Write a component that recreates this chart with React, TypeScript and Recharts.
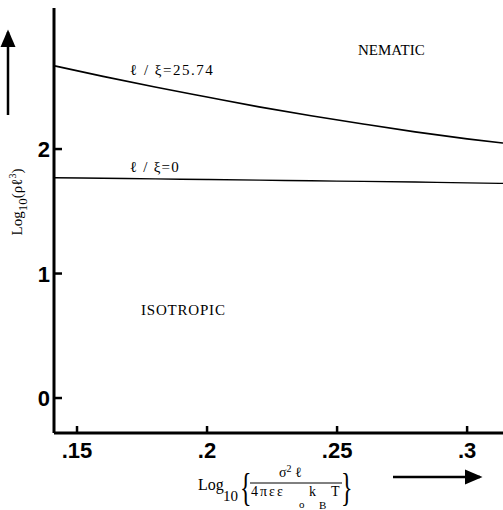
import { Line, LineChart, XAxis, YAxis } from 'recharts';

// log10 of the reduced dipole term (x axis)
const xValues = [0.1412, 0.16, 0.18, 0.2, 0.22, 0.24, 0.26, 0.28, 0.3, 0.3138];
// log10(rho l^3) at the transition, l/xi = 25.74
const upperCurve = [2.669, 2.584, 2.498, 2.418, 2.339, 2.267, 2.201, 2.138, 2.082, 2.048];
// log10(rho l^3) at the transition, l/xi = 0
const lowerCurve = [1.769, 1.765, 1.760, 1.755, 1.750, 1.745, 1.740, 1.735, 1.728, 1.724];

const xTicks = [0.15, 0.2, 0.25, 0.3];
const yTicks = [0, 1, 2];

const data = xValues.map((x, i) => ({
  x,
  upper: upperCurve[i],
  lower: lowerCurve[i]
}));

const tickFont = '"Liberation Sans", Arial, sans-serif';
const serif = '"Liberation Serif", "DejaVu Serif", serif';

// ticks point into the plot, so the mark is drawn here with the label
function XTick(props: any) {
  const { x, y, payload } = props;
  const label = String(payload.value).replace(/^0/, '');
  return (
    <g>
      <path d={`M${x},${y} v-7`} stroke='#000' strokeWidth={2.5} fill='none' />
      <text
        x={x}
        y={y + 25}
        textAnchor='middle'
        fontFamily={tickFont}
        fontWeight='bold'
        fontSize={22}
        fill='#000'
      >
        {label}
      </text>
    </g>
  );
}

function YTick(props: any) {
  const { x, y, payload } = props;
  return (
    <g>
      <path d={`M${x},${y} h8`} stroke='#000' strokeWidth={2.5} fill='none' />
      <text
        x={x - 4}
        y={y + 8}
        textAnchor='end'
        fontFamily={tickFont}
        fontWeight='bold'
        fontSize={22}
        fill='#000'
      >
        {payload.value}
      </text>
    </g>
  );
}

function App() {
  return (
    <div style={{ position: 'absolute', left: 0, top: 0, width: 503, height: 510, background: '#fff' }}>
      <LineChart
        width={503}
        height={510}
        data={data}
        margin={{ top: 8, right: 0, bottom: 0, left: 0 }}
      >
        <XAxis
          dataKey='x'
          type='number'
          domain={[0.14115, 0.3138]}
          ticks={xTicks}
          height={77}
          tickSize={0}
          tickMargin={0}
          tick={<XTick />}
          axisLine={{ stroke: '#000', strokeWidth: 3 }}
          allowDataOverflow
        />
        <XAxis
          xAxisId='top'
          orientation='top'
          dataKey='x'
          type='number'
          domain={[0.14115, 0.3138]}
          height={0}
          tick={false}
          tickLine={false}
          axisLine={{ stroke: '#000', strokeWidth: 2.5 }}
        />
        <YAxis
          type='number'
          domain={[-0.281, 3.133]}
          ticks={yTicks}
          width={54}
          tickSize={0}
          tickMargin={0}
          tick={<YTick />}
          axisLine={{ stroke: '#000', strokeWidth: 3 }}
          allowDataOverflow
        />
        <Line
          dataKey='upper'
          type='monotone'
          stroke='#000'
          strokeWidth={1.6}
          dot={false}
          isAnimationActive={false}
        />
        <Line
          dataKey='lower'
          type='monotone'
          stroke='#000'
          strokeWidth={1.4}
          dot={false}
          isAnimationActive={false}
        />
      </LineChart>

      <svg
        width={503}
        height={510}
        style={{ position: 'absolute', left: 0, top: 0, pointerEvents: 'none' }}
      >
        <defs>
          <marker id='head' markerWidth='8' markerHeight='8' refX='6' refY='4' orient='auto'>
            <path d='M0,1 L7,4 L0,7 Z' fill='#000' />
          </marker>
        </defs>

        {/* region and curve labels */}
        <text x={358} y={55} fontFamily={serif} fontSize={15} fill='#000'>NEMATIC</text>
        <text x={130} y={75} fontFamily={serif} fontSize={15} letterSpacing={1.5} fill='#000'>ℓ / ξ=25.74</text>
        <text x={130} y={172} fontFamily={serif} fontSize={15} letterSpacing={1.2} fill='#000'>ℓ / ξ=0</text>
        <text x={141} y={315} fontFamily={serif} fontSize={15} letterSpacing={0.8} fill='#000'>ISOTROPIC</text>

        {/* y axis title and arrow */}
        <line x1={8} y1={115} x2={8} y2={32} stroke='#000' strokeWidth={2.5} markerEnd='url(#head)' />
        <text
          transform='translate(22, 202) rotate(-90)'
          textAnchor='middle'
          fontFamily={serif}
          fontSize={15}
          fill='#000'
        >
          Log<tspan dy={5} fontSize={13}>10</tspan>
          <tspan dy={-5}>(ρℓ</tspan>
          <tspan dy={-6} fontSize={10}>3</tspan>
          <tspan dy={6}>)</tspan>
        </text>

        {/* x axis title and arrow */}
        <text x={198} y={490} fontFamily={serif} fontSize={16} fill='#000'>Log</text>
        <text x={223} y={501} fontFamily={serif} fontSize={15} fill='#000'>10</text>
        <text transform='translate(240, 501) scale(0.6, 1)' fontFamily={serif} fontSize={40} fill='#000'>{'{'}</text>
        <text x={279} y={477} fontFamily={serif} fontSize={14} fill='#000'>
          σ<tspan dy={-5} fontSize={10}>2</tspan><tspan dy={5}> ℓ</tspan>
        </text>
        <line x1={250} y1={483} x2={342} y2={483} stroke='#000' strokeWidth={1} />
        <text x={251} y={496} fontFamily={serif} fontSize={14} letterSpacing={2} fill='#000'>4πεε</text>
        <text x={299} y={508} fontFamily={serif} fontSize={11} fill='#000'>o</text>
        <text x={309} y={496} fontFamily={serif} fontSize={14} fill='#000'>k</text>
        <text x={319} y={509} fontFamily={serif} fontSize={11} fill='#000'>B</text>
        <text x={331} y={496} fontFamily={serif} fontSize={14} fill='#000'>T</text>
        <text transform='translate(341, 501) scale(0.6, 1)' fontFamily={serif} fontSize={40} fill='#000'>{'}'}</text>
        <line x1={393} y1={477} x2={480} y2={477} stroke='#000' strokeWidth={2.5} markerEnd='url(#head)' />
      </svg>
    </div>
  );
}

export default App;
